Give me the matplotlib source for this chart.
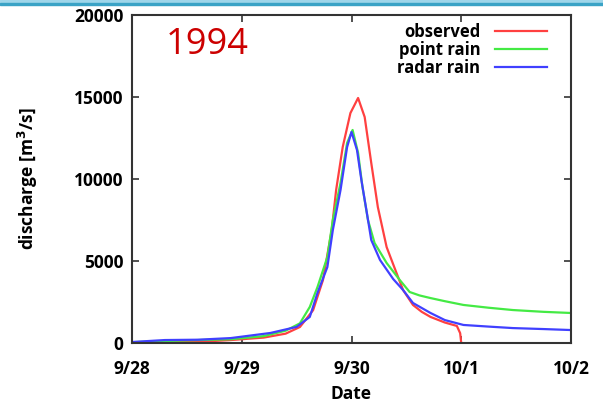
import matplotlib
matplotlib.use("Agg")
import matplotlib.pyplot as plt
from matplotlib.patches import Rectangle

# ---- data (days since 9/28 00:00, discharge m3/s) ----
obs_t = [0, 0.3, 0.6, 0.9, 1.2, 1.4, 1.53, 1.65, 1.74, 1.82, 1.86, 1.92, 1.99, 2.06,
         2.12, 2.18, 2.24, 2.32, 2.41, 2.47, 2.56, 2.64, 2.72, 2.85, 2.96, 2.99, 3.0]
obs_v = [20, 40, 70, 180, 330, 570, 976, 2000, 3840, 6900, 9330, 11950, 14020, 14940,
         13780, 10980, 8290, 5850, 4270, 3230, 2320, 1900, 1590, 1250, 1040, 600, 0]

pt_t = [0, 0.3, 0.6, 0.9, 1.2, 1.4, 1.53, 1.62, 1.69, 1.78, 1.83, 1.90, 1.96, 2.01,
        2.06, 2.10, 2.15, 2.21, 2.32, 2.44, 2.53, 2.62, 2.72, 2.85, 3.02, 3.25, 3.47, 3.75, 4.0]
pt_v = [50, 120, 180, 230, 420, 750, 1200, 2200, 3410, 5240, 7500, 9760, 12200, 12990,
        11590, 9510, 7500, 6100, 4880, 3840, 3110, 2900, 2740, 2550, 2320, 2150, 2010, 1900, 1830]

rd_t = [0, 0.3, 0.6, 0.9, 1.26, 1.5, 1.62, 1.69, 1.78, 1.83, 1.90, 1.96, 2.0, 2.05,
        2.09, 2.14, 2.18, 2.26, 2.38, 2.47, 2.56, 2.72, 2.85, 3.02, 3.25, 3.47, 3.75, 4.0]
rd_v = [60, 180, 200, 300, 610, 980, 1590, 3050, 4630, 6890, 9330, 11950, 12870, 11770,
        9940, 7930, 6280, 5060, 3900, 3230, 2440, 1830, 1400, 1100, 1000, 910, 850, 790]

x_ticks = [0, 1, 2, 3, 4]
x_labels = ["9/28", "9/29", "9/30", "10/1", "10/2"]
y_ticks = [0, 5000, 10000, 15000, 20000]
series_names = ["observed", "point rain", "radar rain"]
title_text = "1994"

plt.rcParams['font.family'] = ['Open Sans', 'DejaVu Sans']

fig = plt.figure(figsize=(6.03, 4.08), dpi=100)
# slide header decoration
fig.patches.append(Rectangle((0, 1 - 3/408), 1, 3/408, transform=fig.transFigure,
                             color='#9fd6ea', zorder=0))
fig.patches.append(Rectangle((0, 1 - 5/408), 1, 2/408, transform=fig.transFigure,
                             color='#3aa3c6', zorder=0))

ax = fig.add_axes([132/603, 1 - 343/408, (571-132)/603, (343-15)/408])
ax.plot(obs_t, obs_v, color='#ff4040', lw=1.6, label=series_names[0])
ax.plot(pt_t, pt_v, color='#44ea44', lw=1.6, label=series_names[1])
ax.plot(rd_t, rd_v, color='#4040ff', lw=1.6, label=series_names[2])

ax.set_xlim(0, 4)
ax.set_ylim(0, 20000)
ax.set_xticks(x_ticks)
ax.set_xticklabels(x_labels)
ax.set_yticks(y_ticks)
ax.set_yticklabels([str(v) for v in y_ticks])
ax.tick_params(direction='in', top=True, right=True, length=5, width=1.2,
               color='#333333', labelsize=12.5)
ax.tick_params(axis='x', pad=12)
ax.tick_params(axis='y', pad=6)
for lab in ax.get_xticklabels() + ax.get_yticklabels():
    lab.set_fontweight('bold')
for s in ax.spines.values():
    s.set_linewidth(1.5)
    s.set_color('#333333')

ax.set_xlabel("Date", fontsize=12.5, fontweight='bold')
ax.xaxis.set_label_coords(0.5, (343 - 394) / 328, transform=ax.transAxes)
ax.get_xaxis().label.set_va('center')
ax.set_ylabel("discharge [m$^\\mathbf{3}$/s]", fontsize=12.5, fontweight='bold')
ax.yaxis.set_label_coords((28 - 132) / 439, 0.5, transform=ax.transAxes)
ax.get_yaxis().label.set_va('center')

ax.text((166 - 132) / 439, (343 - 45) / 328, title_text, transform=ax.transAxes,
        color='#cc0000', fontsize=26, ha='left', va='center')

leg = ax.legend(loc='upper right', frameon=False, markerfirst=False,
                bbox_to_anchor=((547 - 132) / 439, (343 - 23) / 328),
                handlelength=3.1, labelspacing=0.0, borderpad=0.0,
                borderaxespad=0.0, handletextpad=0.9,
                prop={'weight': 'bold', 'size': 12})

fig.savefig("out.png", dpi=100)
